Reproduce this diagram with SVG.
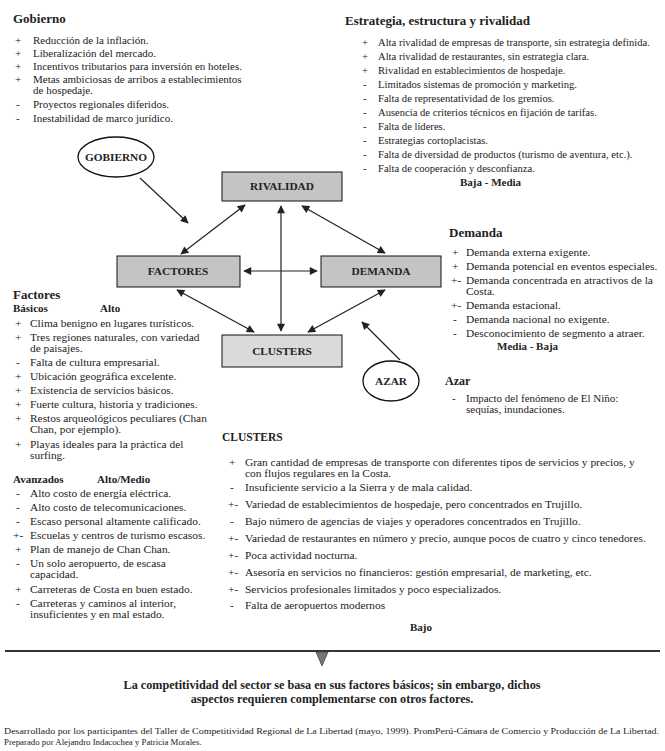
<svg xmlns="http://www.w3.org/2000/svg" width="665" height="751" viewBox="0 0 665 751">
<defs>
<style>
text{font-family:"Liberation Serif","Times New Roman",serif;fill:#222}
.h{font-size:13px;font-weight:bold}
.hc{font-size:11.5px;font-weight:bold}
.t{font-size:11px}
.ts{font-size:10.6px}
.tl{font-size:11.4px}
.b{font-size:11px;font-weight:bold}
.box{fill:#c4c4c4;stroke:#111;stroke-width:1}
.lbl{font-size:11.3px;font-weight:bold;text-anchor:middle}
.ell{fill:#fff;stroke:#111;stroke-width:1.3}
.con{stroke:#222;stroke-width:1.2;fill:none}
.fn{font-size:8.8px}
</style>
<marker id="ah" viewBox="0 0 10 10" refX="9" refY="5" markerWidth="9" markerHeight="8" markerUnits="userSpaceOnUse" orient="auto-start-reverse"><path d="M0,0L10,5L0,10z" fill="#222"/></marker>
</defs>
<rect width="665" height="751" fill="#fff"/>

<g id="gobierno-text">
<text class="h" x="13" y="23">Gobierno</text>
<g class="t">
<text x="15" y="44">+</text><text x="33" y="44">Reducción de la inflación.</text>
<text x="15" y="57">+</text><text x="33" y="57">Liberalización del mercado.</text>
<text x="15" y="70">+</text><text x="33" y="70">Incentivos tributarios para inversión en hoteles.</text>
<text x="15" y="83">+</text><text x="33" y="83">Metas ambiciosas de arribos a establecimientos</text>
<text x="33" y="94">de hospedaje.</text>
<text x="16" y="108">-</text><text x="33" y="108">Proyectos regionales diferidos.</text>
<text x="16" y="122">-</text><text x="33" y="122">Inestabilidad de marco jurídico.</text>
</g>
</g>

<g id="estrategia-text">
<text class="h" x="345" y="25">Estrategia, estructura y rivalidad</text>
<g class="ts">
<text x="362" y="46">+</text><text x="378" y="46">Alta rivalidad de empresas de transporte, sin estrategia definida.</text>
<text x="362" y="60">+</text><text x="378" y="60">Alta rivalidad de restaurantes, sin estrategia clara.</text>
<text x="362" y="74">+</text><text x="378" y="74">Rivalidad en establecimientos de hospedaje.</text>
<text x="363" y="88">-</text><text x="378" y="88">Limitados sistemas de promoción y marketing.</text>
<text x="363" y="102">-</text><text x="378" y="102">Falta de representatividad de los gremios.</text>
<text x="363" y="116">-</text><text x="378" y="116">Ausencia de criterios técnicos en fijación de tarifas.</text>
<text x="363" y="130">-</text><text x="378" y="130">Falta de líderes.</text>
<text x="363" y="144">-</text><text x="378" y="144">Estrategias cortoplacistas.</text>
<text x="363" y="158">-</text><text x="378" y="158">Falta de diversidad de productos (turismo de aventura, etc.).</text>
<text x="363" y="172">-</text><text x="378" y="172">Falta de cooperación y desconfianza.</text>
</g>
<text class="b" x="460" y="186">Baja - Media</text>
</g>

<g id="connectors">
<line class="con" x1="140" y1="178" x2="188" y2="223" marker-end="url(#ah)"/>
<line class="con" x1="245" y1="205" x2="181" y2="254" marker-start="url(#ah)" marker-end="url(#ah)"/>
<line class="con" x1="302" y1="206" x2="385" y2="253" marker-start="url(#ah)" marker-end="url(#ah)"/>
<line class="con" x1="281" y1="206" x2="281" y2="331" marker-start="url(#ah)" marker-end="url(#ah)"/>
<line class="con" x1="244" y1="271" x2="317" y2="271" marker-start="url(#ah)" marker-end="url(#ah)"/>
<line class="con" x1="177" y1="290" x2="254" y2="332" marker-start="url(#ah)" marker-end="url(#ah)"/>
<line class="con" x1="385" y1="290" x2="308" y2="332" marker-start="url(#ah)" marker-end="url(#ah)"/>
<line class="con" x1="400" y1="360" x2="362" y2="322" marker-end="url(#ah)"/>
</g>

<g id="node-gobierno">
<ellipse class="ell" cx="116" cy="157" rx="38" ry="20"/>
<text class="lbl" x="116" y="161">GOBIERNO</text>
</g>
<g id="node-rivalidad">
<rect class="box" x="222" y="172" width="120" height="29"/>
<text class="lbl" x="282" y="190">RIVALIDAD</text>
</g>
<g id="node-factores">
<rect class="box" x="117" y="256" width="123" height="31"/>
<text class="lbl" x="178" y="275">FACTORES</text>
</g>
<g id="node-demanda">
<rect class="box" x="321" y="256" width="120" height="31"/>
<text class="lbl" x="381" y="275">DEMANDA</text>
</g>
<g id="node-clusters">
<rect class="box" x="222" y="335" width="120" height="32" style="fill:#dadada"/>
<text class="lbl" x="282" y="355">CLUSTERS</text>
</g>
<g id="node-azar">
<ellipse class="ell" cx="391" cy="381" rx="28" ry="20"/>
<text class="lbl" x="391" y="385">AZAR</text>
</g>

<g id="demanda-text">
<text class="h" x="449" y="237">Demanda</text>
<g class="tl">
<text x="452" y="256">+</text><text x="466" y="256">Demanda externa exigente.</text>
<text x="452" y="270">+</text><text x="466" y="270">Demanda potencial en eventos especiales.</text>
<text x="451" y="284">+-</text><text x="466" y="284">Demanda concentrada en atractivos de la</text>
<text x="466" y="295">Costa.</text>
<text x="451" y="309">+-</text><text x="466" y="309">Demanda estacional.</text>
<text x="453" y="323">-</text><text x="466" y="323">Demanda nacional no exigente.</text>
<text x="453" y="337">-</text><text x="466" y="337">Desconocimiento de segmento a atraer.</text>
</g>
<text class="b" x="497" y="350">Media - Baja</text>
</g>

<g id="factores-text">
<text class="h" x="13" y="299">Factores</text>
<text class="b" x="13" y="312">Básicos</text>
<text class="b" x="100" y="312">Alto</text>
<g class="tl">
<text x="15" y="327">+</text><text x="30" y="327">Clima benigno en lugares turísticos.</text>
<text x="15" y="341">+</text><text x="30" y="341">Tres regiones naturales, con variedad</text>
<text x="30" y="352">de paisajes.</text>
<text x="16" y="366">-</text><text x="30" y="366">Falta de cultura empresarial.</text>
<text x="15" y="380">+</text><text x="30" y="380">Ubicación geográfica excelente.</text>
<text x="15" y="394">+</text><text x="30" y="394">Existencia de servicios básicos.</text>
<text x="15" y="408">+</text><text x="30" y="408">Fuerte cultura, historia y tradiciones.</text>
<text x="15" y="422">+</text><text x="30" y="422">Restos arqueológicos peculiares (Chan</text>
<text x="30" y="433">Chan, por ejemplo).</text>
<text x="15" y="448">+</text><text x="30" y="448">Playas ideales para la práctica del</text>
<text x="30" y="459">surfing.</text>
</g>
</g>

<g id="avanzados-text">
<text class="b" x="13" y="483">Avanzados</text>
<text class="b" x="97" y="483">Alto/Medio</text>
<g class="tl">
<text x="16" y="497">-</text><text x="30" y="497">Alto costo de energía eléctrica.</text>
<text x="16" y="511">-</text><text x="30" y="511">Alto costo de telecomunicaciones.</text>
<text x="16" y="525">-</text><text x="30" y="525">Escaso personal altamente calificado.</text>
<text x="13" y="539">+-</text><text x="30" y="539">Escuelas y centros de turismo escasos.</text>
<text x="15" y="553">+</text><text x="30" y="553">Plan de manejo de Chan Chan.</text>
<text x="16" y="567">-</text><text x="30" y="567">Un solo aeropuerto, de escasa</text>
<text x="30" y="578">capacidad.</text>
<text x="15" y="593">+</text><text x="30" y="593">Carreteras de Costa en buen estado.</text>
<text x="16" y="607">-</text><text x="30" y="607">Carreteras y caminos al interior,</text>
<text x="30" y="618">insuficientes y en mal estado.</text>
</g>
</g>

<g id="azar-text">
<text class="h" x="445" y="385" style="font-size:12px">Azar</text>
<g class="t">
<text x="452" y="402">-</text><text x="466" y="402">Impacto del fenómeno de El Niño:</text>
<text x="466" y="413">sequías, inundaciones.</text>
</g>
</g>

<g id="clusters-text">
<text class="hc" x="222" y="441">CLUSTERS</text>
<g class="tl">
<text x="229" y="466">+</text><text x="245" y="466">Gran cantidad de empresas de transporte con diferentes tipos de servicios y precios, y</text>
<text x="245" y="477">con flujos regulares en la Costa.</text>
<text x="230" y="491">-</text><text x="245" y="491">Insuficiente servicio a la Sierra y de mala calidad.</text>
<text x="228" y="508">+-</text><text x="245" y="508">Variedad de establecimientos de hospedaje, pero concentrados en Trujillo.</text>
<text x="230" y="525">-</text><text x="245" y="525">Bajo número de agencias de viajes y operadores concentrados en Trujillo.</text>
<text x="228" y="542">+-</text><text x="245" y="542">Variedad de restaurantes en número y precio, aunque pocos de cuatro y cinco tenedores.</text>
<text x="228" y="559">+-</text><text x="245" y="559">Poca actividad nocturna.</text>
<text x="228" y="576">+-</text><text x="245" y="576">Asesoría en servicios no financieros: gestión empresarial, de marketing, etc.</text>
<text x="228" y="593">+-</text><text x="245" y="593">Servicios profesionales limitados y poco especializados.</text>
<text x="230" y="609">-</text><text x="245" y="609">Falta de aeropuertos modernos</text>
</g>
<text class="b" x="410" y="631">Bajo</text>
</g>

<g id="conclusion">
<line x1="5" y1="651" x2="660" y2="651" stroke="#333" stroke-width="2"/>
<path d="M316,652L328,652L322,666z" fill="#777" stroke="#444" stroke-width="0.8"/>
<text class="h" x="332" y="689" text-anchor="middle" style="font-size:12.2px">La competitividad del sector se basa en sus factores básicos; sin embargo, dichos</text>
<text class="h" x="332" y="703" text-anchor="middle" style="font-size:12.2px">aspectos requieren complementarse con otros factores.</text>
</g>

<g id="footnote">
<text class="fn" x="4" y="734" textLength="655" lengthAdjust="spacingAndGlyphs">Desarrollado por los participantes del Taller de Competitividad Regional de La Libertad (mayo, 1999). PromPerú-Cámara de Comercio y Producción de La Libertad.</text>
<text class="fn" x="4" y="745">Preparado por Alejandro Indacochea y Patricia Morales.</text>
</g>
</svg>
